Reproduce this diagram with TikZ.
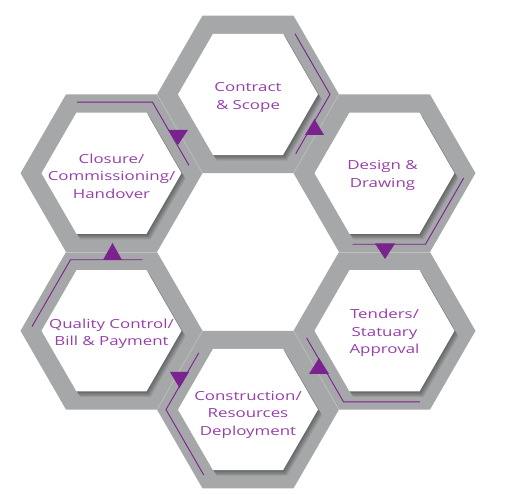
\documentclass[tikz,border=0pt]{standalone}
\usepackage{fontspec}
\setmainfont{Open Sans}[FakeStretch=1.35]
\usetikzlibrary{calc}
\definecolor{hexgray}{RGB}{165,167,169}
\definecolor{edgegray}{RGB}{190,192,194}
\definecolor{arrowpurple}{RGB}{122,34,142}
\definecolor{textpurple}{RGB}{150,64,170}
\begin{document}
\begin{tikzpicture}[x=1pt,y=-1pt,
  hexband/.style={fill=hexgray},
  seamline/.style={draw=edgegray, line width=0.6pt},
  hexface/.style={fill=white},
  hexshade/.style={fill=black, opacity=0.085},
  flowline/.style={draw=arrowpurple, line width=0.9pt},
  flowtip/.style={fill=arrowpurple},
  steptext/.style={text=textpurple, align=center, font=\fontsize{12.5}{17.5}\selectfont}]
\useasboundingbox (0,0) rectangle (507,494);
\coordinate (cC) at (248,94.4);
\coordinate (cD) at (384.5,173.2);
\coordinate (cT) at (384.5,330.8);
\coordinate (cK) at (248,409.6);
\coordinate (cQ) at (111.5,330.8);
\coordinate (cH) at (111.5,173.2);
% grey bands
\foreach \c in {cC,cD,cT,cK,cQ,cH}
  \path[hexband,shift={(\c)}] (0:91) -- (60:91) -- (120:91) -- (180:91) -- (240:91) -- (300:91) -- cycle;
% light seams where neighbouring bands meet
\foreach \c/\a in {cC/30,cD/90,cT/150,cK/210,cQ/270,cH/330}
  \draw[seamline,shift={(\c)}] (\a-30:91) -- (\a+30:91);
% soft shadows of the white faces
\foreach \c in {cC,cD,cT,cK,cQ,cH}
  \foreach \o in {1,...,5}
    \path[hexshade,shift={(\c)},shift={(\o*0.8,\o*1.1)}] (0:70) -- (60:70) -- (120:70) -- (180:70) -- (240:70) -- (300:70) -- cycle;
% white faces
\foreach \c in {cC,cD,cT,cK,cQ,cH}
  \path[hexface,shift={(\c)}] (0:70) -- (60:70) -- (120:70) -- (180:70) -- (240:70) -- (300:70) -- cycle;
% purple flow lines
\begin{scope}[shift={(cC)}]
  \draw[flowline] ($(-60:82)!0.145!(0:82)$) -- (0:82) -- ($(0:82)!0.835!(60:82)$);
\end{scope}
\begin{scope}[shift={(cD)}]
  \draw[flowline] ($(0:82)!0.07!(60:82)$) -- (60:82) -- ($(60:82)!0.89!(120:82)$);
\end{scope}
\begin{scope}[shift={(cT)}]
  \draw[flowline] ($(180:82)!0.1!(120:82)$) -- (120:82) -- ($(120:82)!0.93!(60:82)$);
\end{scope}
\begin{scope}[shift={(cK)}]
  \draw[flowline] ($(240:82)!0.2!(180:82)$) -- (180:82) -- ($(180:82)!0.92!(120:82)$);
\end{scope}
\begin{scope}[shift={(cQ)}]
  \draw[flowline] ($(180:82)!0.06!(240:82)$) -- (240:82) -- ($(240:82)!0.88!(300:82)$);
\end{scope}
\begin{scope}[shift={(cH)}]
  \draw[flowline] ($(240:82)!0.08!(300:82)$) -- (300:82) -- ($(300:82)!0.89!(360:82)$);
\end{scope}
% purple triangles
\fill[flowtip] (305,135) -- (324,135) -- (314.5,119) -- cycle;
\fill[flowtip] (375,243.5) -- (395,243.5) -- (385,259) -- cycle;
\fill[flowtip] (309,374) -- (329,374) -- (319,358) -- cycle;
\fill[flowtip] (170,372) -- (189,372) -- (179.5,388) -- cycle;
\fill[flowtip] (103,260) -- (122,260) -- (112.5,243) -- cycle;
\fill[flowtip] (168,130) -- (188,130) -- (178,145) -- cycle;
% texts
\node[steptext] (contract) at ($(cC)+(0,3)$) {Contract\\\& Scope};
\node[steptext] (design) at ($(cD)+(-2,2)$) {Design \&\\Drawing};
\node[steptext] (tenders) at ($(cT)+(0,2)$) {Tenders/\\Statuary\\Approval};
\node[steptext] (construction) at ($(cK)+(0,5)$) {Construction/\\Resources\\Deployment};
\node[steptext] (quality) at ($(cQ)+(0,3)$) {Quality Control/\\Bill \& Payment};
\node[steptext] (closure) at ($(cH)+(0,3)$) {Closure/\\Commissioning/\\Handover};
\end{tikzpicture}
\end{document}
